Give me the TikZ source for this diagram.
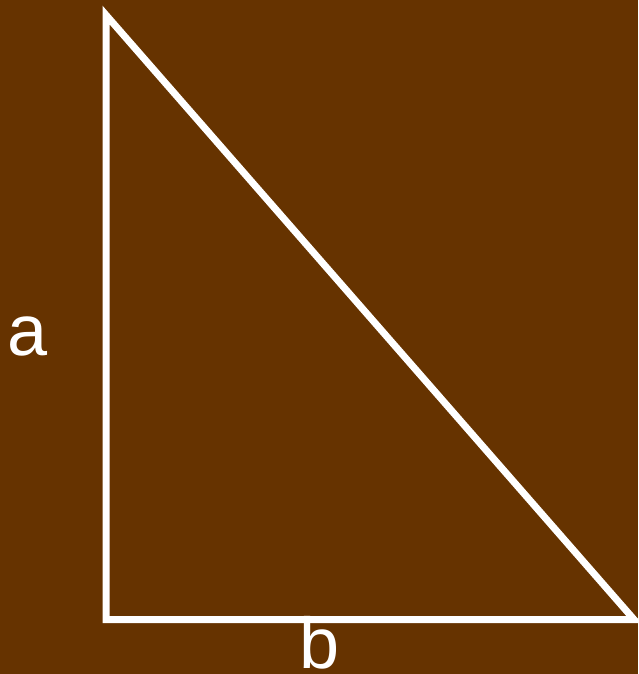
\documentclass[tikz,border=0pt]{standalone}
\usepackage{fontspec}
\setmainfont{Liberation Sans}
\definecolor{bgbrown}{HTML}{663300}
\begin{document}
\begin{tikzpicture}[x=1pt,y=-1pt,
  edge/.style={draw=white,line width=7pt,line join=miter},
  lbl/.style={text=white,inner sep=0pt,anchor=base,font=\fontsize{72}{80}\selectfont}]
\fill[bgbrown] (0,0) rectangle (638,674);
\useasboundingbox (0,0) rectangle (638,674);
\coordinate (A) at (106,15);
\coordinate (C) at (106,619.5);
\coordinate (B) at (634,619.5);
\draw[edge] (A) -- (C) -- (B) -- cycle;
\node[lbl] (la) at (28,355) {a};
\node[lbl] (lb) at (320,668) {b};
\end{tikzpicture}
\end{document}
